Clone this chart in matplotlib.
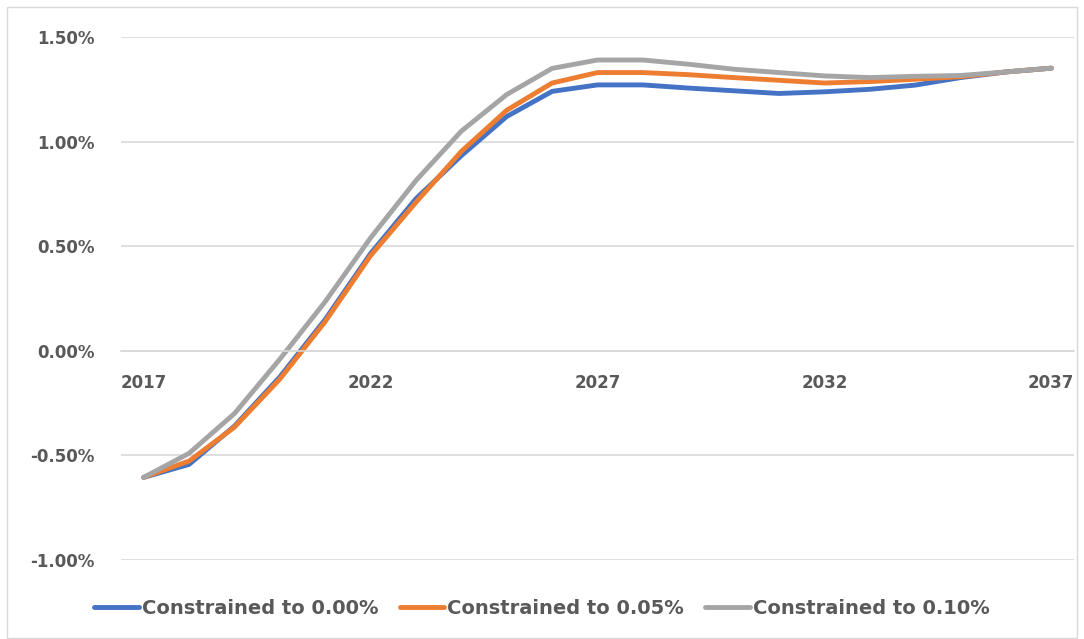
import matplotlib
matplotlib.use("Agg")
import matplotlib.pyplot as plt
from matplotlib.patches import Rectangle
from matplotlib.ticker import FuncFormatter, MultipleLocator

plt.rcParams["font.family"] = ["DejaVu Sans"]

# data (values in %)
years = list(range(2017, 2038))
c000 = [-0.605, -0.543, -0.36, -0.125, 0.15, 0.465, 0.727, 0.933, 1.12, 1.24, 1.271,
        1.271, 1.256, 1.243, 1.23, 1.238, 1.25, 1.27, 1.306, 1.333, 1.351]
c005 = [-0.605, -0.527, -0.365, -0.135, 0.14, 0.455, 0.71, 0.953, 1.15, 1.28, 1.33,
        1.33, 1.32, 1.306, 1.293, 1.28, 1.287, 1.298, 1.31, 1.333, 1.351]
c010 = [-0.605, -0.49, -0.30, -0.04, 0.235, 0.54, 0.814, 1.05, 1.225, 1.35, 1.39,
        1.39, 1.37, 1.346, 1.33, 1.314, 1.306, 1.312, 1.316, 1.333, 1.351]
labels = ["Constrained to 0.00%", "Constrained to 0.05%", "Constrained to 0.10%"]
colors = ["#4472C4", "#ED7D31", "#A5A5A5"]

txt = "#595959"
grid = "#D9D9D9"

fig = plt.figure(figsize=(10.84, 6.39), dpi=100)
ax = fig.add_axes([121/1084, 79/639, 953/1084, 523/639])

for ys, lab, col in zip([c000, c005, c010], labels, colors):
    ax.plot(years, ys, color=col, lw=3.5, label=lab, solid_capstyle="round")

ax.set_xlim(2016.5, 2037.5)
ax.set_ylim(-1.0, 1.5)
ax.yaxis.set_major_locator(MultipleLocator(0.5))
ax.yaxis.set_major_formatter(FuncFormatter(lambda v, p: f"{v:.2f}%"))
ax.set_xticks([2017, 2022, 2027, 2032, 2037])
ax.grid(axis="y", color=grid, lw=1.2)
ax.set_axisbelow(True)

for s in ["top", "right", "left"]:
    ax.spines[s].set_visible(False)
ax.spines["bottom"].set_position(("data", 0))
ax.spines["bottom"].set_color(grid)
ax.spines["bottom"].set_linewidth(1.2)

ax.tick_params(axis="x", length=0, pad=17, labelsize=12, labelcolor=txt)
ax.tick_params(axis="y", length=0, pad=19, labelsize=12, labelcolor=txt)
for t in ax.get_xticklabels() + ax.get_yticklabels():
    t.set_fontweight("bold")

leg = fig.legend(loc="center", bbox_to_anchor=(0.5, 1 - 608/639), ncol=3, frameon=False,
                 handlelength=2.3, handletextpad=0.15, columnspacing=1.1,
                 prop={"weight": "bold", "size": 14})
for t in leg.get_texts():
    t.set_color(txt)

fig.patches.append(Rectangle((7/1084, 0.002), 1 - 14/1084, 1 - 7/639 - 0.002,
                             transform=fig.transFigure, fill=False, edgecolor=grid, lw=1))

fig.savefig("out.png", dpi=100)
